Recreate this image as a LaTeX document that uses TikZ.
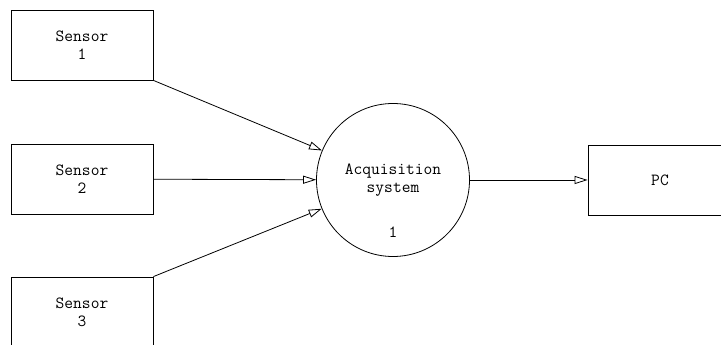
\documentclass[tikz,border=0pt]{standalone}
\usetikzlibrary{arrows.meta}
\begin{document}
\begin{tikzpicture}[x=1pt, y=1pt, line width=0.8pt, >={Triangle[open, length=13pt, width=8pt]},
    every node/.style={font=\ttfamily\fontsize{17}{18}\selectfont},
    box/.style={draw, minimum width=142pt, minimum height=70pt, align=center, inner sep=0pt}]
  \useasboundingbox (0,0) rectangle (721,345);
  \clip (0,0) rectangle (721,345);

  % Sensors
  \node[box] (s1) at (82,300) {Sensor\\1};
  \node[box] (s2) at (82,166) {Sensor\\2};
  \node[box] (s3) at (82,33) {Sensor\\3};

  % Process
  \node[draw, circle, minimum size=153pt, inner sep=0pt, align=center] (acq) at (393,165) {Acquisition\\system};
  \node (acqnum) at (393,113) {1};

  % Output
  \node[box, minimum width=144pt] (pc) at (660,165) {PC};

  % Arrows
  \draw[->] (s1.south east) -- (acq);
  \draw[->] (s2) -- (acq);
  \draw[->] (s3.north east) -- (acq);
  \draw[->] (acq) -- (pc);
\end{tikzpicture}
\end{document}
